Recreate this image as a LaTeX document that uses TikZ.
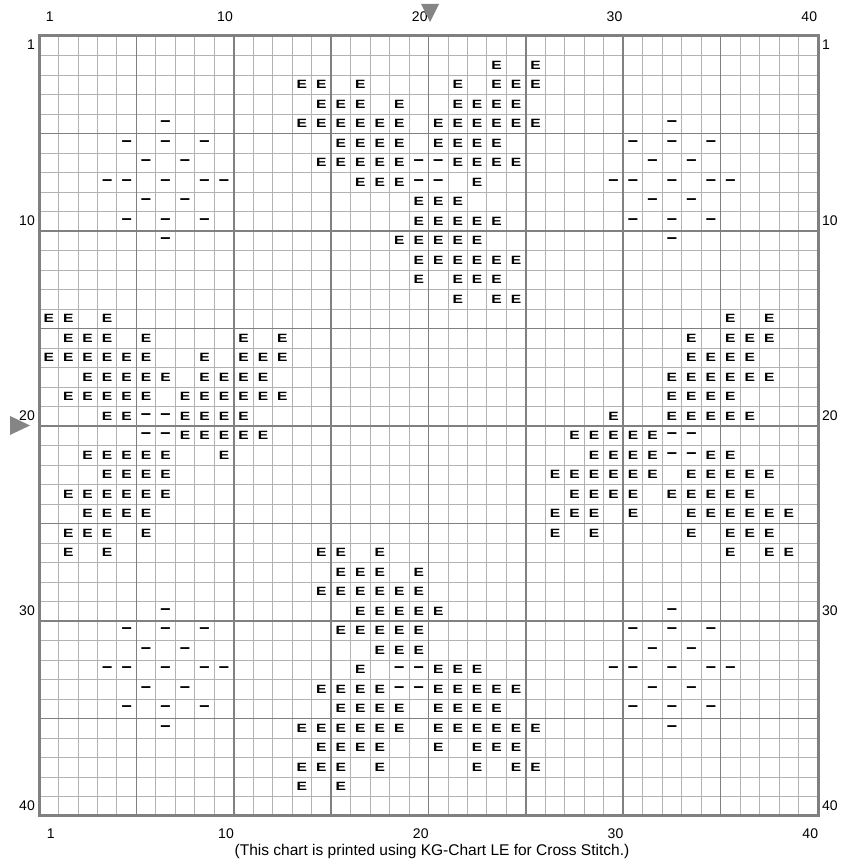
\documentclass[tikz,border=0pt]{standalone}
\usepackage{fontspec}
\setmainfont{Liberation Sans}
\usepackage{graphicx}
\definecolor{minorgray}{HTML}{B2B2B2}
\definecolor{majorgray}{HTML}{808080}
\definecolor{markgray}{HTML}{858585}
\newcommand{\symE}{\scalebox{1.3}[1]{E}}
\newcommand{\symD}{\scalebox{1.6}[1.6]{–}}
\tikzset{
  minorline/.style={draw=minorgray, line width=0.9pt},
  majorline/.style={draw=majorgray, line width=1.6pt},
  borderline/.style={draw=majorgray, line width=3pt},
  esym/.style={inner sep=0pt, font=\fontsize{12}{12}\selectfont\bfseries},
  dsym/.style={inner sep=0pt, font=\fontsize{11.5}{12}\selectfont\bfseries},
  axislabel/.style={inner sep=0pt, font=\fontsize{14}{16}\selectfont},
  footlabel/.style={inner sep=0pt, font=\fontsize{15.5}{18}\selectfont},
  marker/.style={fill=markgray, draw=none}
}
\begin{document}
\begin{tikzpicture}[x=1pt,y=1pt]
\useasboundingbox (0,0) rectangle (853,866);
\fill[white] (0,0) rectangle (853,866);
% minor grid
\foreach \k in {0,...,40} {
  \draw[minorline] ({39+19.475*\k},50) -- ({39+19.475*\k},830);
  \draw[minorline] (39,{830-19.5*\k}) -- (818,{830-19.5*\k});
}
% major grid
\foreach \k in {5,10,...,35} {
  \draw[majorline] ({39+19.475*\k},50) -- ({39+19.475*\k},830);
  \draw[majorline] (39,{830-19.5*\k}) -- (818,{830-19.5*\k});
}
\draw[borderline] (39,50) rectangle (818,830);
% E symbols
\foreach \r/\cs in {
  2/{24,26},
  3/{14,15,17,22,24,25,26},
  4/{15,16,17,19,22,23,24,25},
  5/{14,15,16,17,18,19,21,22,23,24,25,26},
  6/{16,17,18,19,21,22,23,24},
  7/{15,16,17,18,19,22,23,24,25},
  8/{17,18,19,23},
  9/{20,21,22},
  10/{20,21,22,23,24},
  11/{19,20,21,22,23},
  12/{20,21,22,23,24,25},
  13/{20,22,23,24},
  14/{22,24,25},
  15/{1,2,4,36,38},
  16/{2,3,4,6,11,13,34,36,37,38},
  17/{1,2,3,4,5,6,9,11,12,13,34,35,36,37},
  18/{3,4,5,6,7,9,10,11,12,33,34,35,36,37,38},
  19/{2,3,4,5,6,8,9,10,11,12,13,33,34,35,36},
  20/{4,5,8,9,10,11,30,33,34,35,36,37},
  21/{8,9,10,11,12,28,29,30,31,32},
  22/{3,4,5,6,7,10,29,30,31,32,35,36},
  23/{4,5,6,7,27,28,29,30,31,32,34,35,36,37,38},
  24/{2,3,4,5,6,7,28,29,30,31,33,34,35,36,37},
  25/{3,4,5,6,27,28,29,31,34,35,36,37,38,39},
  26/{2,3,4,6,27,29,34,36,37,38},
  27/{2,4,15,16,18,36,38,39},
  28/{16,17,18,20},
  29/{15,16,17,18,19,20},
  30/{17,18,19,20,21},
  31/{16,17,18,19,20},
  32/{18,19,20},
  33/{17,21,22,23},
  34/{15,16,17,18,21,22,23,24,25},
  35/{16,17,18,19,21,22,23,24},
  36/{14,15,16,17,18,19,21,22,23,24,25,26},
  37/{15,16,17,18,21,23,24,25},
  38/{14,15,16,18,23,25,26},
  39/{14,16}} {
  \foreach \c in \cs {
    \node[esym] (e\r-\c) at ({29.2625+19.475*\c},{839.75-19.5*\r}) {\symE};
  }
}
% dash symbols
\foreach \r/\cs in {
  5/{7,33},
  6/{5,7,9,31,33,35},
  7/{6,8,20,21,32,34},
  8/{4,5,7,9,10,20,21,30,31,33,35,36},
  9/{6,8,32,34},
  10/{5,7,9,31,33,35},
  11/{7,33},
  20/{6,7},
  21/{6,7,33,34},
  22/{33,34},
  30/{7,33},
  31/{5,7,9,31,33,35},
  32/{6,8,32,34},
  33/{4,5,7,9,10,19,20,30,31,33,35,36},
  34/{6,8,19,20,32,34},
  35/{5,7,9,31,33,35},
  36/{7,33}} {
  \foreach \c in \cs {
    \node[dsym] (d\r-\c) at ({29.2625+19.475*\c},{839.75-19.5*\r}) {\symD};
  }
}
% column labels
\foreach \c in {1,10,20,30,40} {
  \node[axislabel] (top\c) at ({29.2625+19.475*\c+1},849) {\c};
  \node[axislabel] (bot\c) at ({29.2625+19.475*\c+2},32) {\c};
}
% row labels
\foreach \r in {1,10,20,30,40} {
  \node[axislabel, anchor=east] (left\r) at (35,{839.75-19.5*\r+1}) {\r};
  \node[axislabel, anchor=west] (right\r) at (822,{839.75-19.5*\r+1}) {\r};
}
% center markers
\fill[marker] (421,862) -- (439,862) -- (430,844) -- cycle;
\fill[marker] (10,450) -- (10,431) -- (30,440.5) -- cycle;
% footer
\node[footlabel] (footer) at (432,15) {(This chart is printed using KG-Chart LE for Cross Stitch.)};
\end{tikzpicture}
\end{document}
